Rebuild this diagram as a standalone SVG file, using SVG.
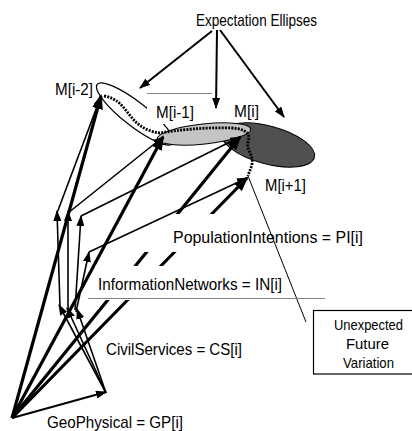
<svg xmlns="http://www.w3.org/2000/svg" width="412" height="431" viewBox="0 0 412 431">
<style>
text{font-family:"Liberation Sans",Arial,sans-serif;fill:#000}
.lbl{font-size:17px}
.box{font-size:14.5px}
.tk{stroke:#000;stroke-width:3.2;fill:none;marker-end:url(#ahT)}
.tn{stroke:#000;stroke-width:1.6;fill:none;marker-end:url(#ahS)}
.ex{stroke:#000;stroke-width:2;fill:none;marker-end:url(#ahS)}
.dot{stroke:#000;stroke-width:2.8;fill:none;stroke-dasharray:2 1.2}
.rule{stroke:#808080;stroke-width:1}
</style>
<defs>
<marker id="ahT" markerUnits="userSpaceOnUse" viewBox="0 0 15 11" markerWidth="15" markerHeight="11" refX="13" refY="5.5" orient="auto"><path d="M0,0 L15,5.5 L0,11 z" fill="#000"/></marker>
<marker id="ahS" markerUnits="userSpaceOnUse" viewBox="0 0 11 8" markerWidth="11" markerHeight="8" refX="10" refY="4" orient="auto"><path d="M0,0 L11,4 L0,8 z" fill="#000"/></marker>
<mask id="lblmask" maskUnits="userSpaceOnUse" x="0" y="0" width="412" height="431">
<rect x="0" y="0" width="412" height="431" fill="#fff"/>
<rect x="142" y="214" width="230" height="38" fill="#000"/>
<rect x="95" y="266" width="235" height="34" fill="#000"/>
</mask>
</defs>
<rect width="412" height="431" fill="#fff"/>

<g id="node-M-i-2">
<ellipse cx="135" cy="114" rx="48" ry="12" transform="rotate(38 135 114)" fill="#fff" stroke="#000" stroke-width="1.2"/>
<text class="lbl" x="55" y="95" textLength="38" lengthAdjust="spacingAndGlyphs">M[i-2]</text>
</g>
<g id="node-M-i">
<ellipse cx="268" cy="145" rx="48" ry="19" transform="rotate(15 268 145)" fill="#505050" stroke="#000" stroke-width="1"/>
<rect x="231" y="102" width="29" height="18" fill="#fff"/>
<text class="lbl" x="234" y="117" textLength="25" lengthAdjust="spacingAndGlyphs">M[i]</text>
</g>
<g id="node-M-i-1">
<rect x="147" y="94" width="66" height="30" fill="#fff"/>
<line class="rule" x1="147" y1="93.5" x2="212" y2="93.5"/>
<ellipse cx="204" cy="134" rx="47" ry="10" transform="rotate(-6 204 134)" fill="#c4c4c4" stroke="#000" stroke-width="1"/>
<text class="lbl" x="156" y="118" textLength="38" lengthAdjust="spacingAndGlyphs">M[i-1]</text>
</g>
<g id="node-M-i+1">
<text class="lbl" x="265" y="191" textLength="41" lengthAdjust="spacingAndGlyphs">M[i+1]</text>
</g>

<g id="connectors">
<g mask="url(#lblmask)">
<line class="tk" x1="12" y1="418" x2="101" y2="96"/>
<line class="tk" x1="12" y1="418" x2="163" y2="137"/>
<line class="tk" x1="12" y1="418" x2="240" y2="137"/>
<line class="tk" x1="12" y1="418" x2="247" y2="178"/>
</g>
<line class="tn" x1="12" y1="418" x2="106" y2="392" style="stroke-width:2"/>
<line class="tn" x1="106" y1="393" x2="59" y2="305"/>
<line class="tn" x1="106" y1="393" x2="67" y2="308"/>
<line class="tn" x1="106" y1="393" x2="77" y2="309"/>
<line class="tn" x1="60" y1="307" x2="57" y2="211"/>
<line class="tn" x1="68" y1="309" x2="68" y2="211"/>
<line class="tn" x1="75" y1="310" x2="81" y2="216"/>
<line class="tn" x1="76" y1="312" x2="89" y2="252"/>
<line class="tn" x1="57" y1="213" x2="101" y2="96"/>
<line class="tn" x1="68" y1="213" x2="163" y2="137"/>
<line class="tn" x1="81" y1="216" x2="240" y2="137"/>
<line class="tn" x1="89" y1="252" x2="247" y2="178"/>
<path class="dot" d="M104,96 C116,98 122,105 128,113 C135,122 143,131 160,133 C178,130 205,127 232,128 C246,129 251,134 248,142 C246,150 254,156 252,164 C251,169 249,172 248,176"/>
<line x1="248" y1="176" x2="306" y2="322" stroke="#000" stroke-width="1"/>
<line class="ex" x1="212" y1="31" x2="140" y2="88"/>
<line class="ex" x1="217" y1="30" x2="216" y2="108"/>
<line class="ex" x1="220" y1="30" x2="284" y2="117"/>
</g>

<g id="label-expectation">
<text class="lbl" x="196" y="26" textLength="121" lengthAdjust="spacingAndGlyphs">Expectation Ellipses</text>
</g>
<g id="node-PI">
<text class="lbl" x="173" y="243" textLength="190" lengthAdjust="spacingAndGlyphs">PopulationIntentions = PI[i]</text>
</g>
<g id="node-IN">
<text class="lbl" x="98" y="290" textLength="184" lengthAdjust="spacingAndGlyphs">InformationNetworks = IN[i]</text>
<line class="rule" x1="88" y1="298.5" x2="325" y2="298.5"/>
</g>
<g id="node-CS">
<text class="lbl" x="106" y="355" textLength="136" lengthAdjust="spacingAndGlyphs">CivilServices = CS[i]</text>
</g>
<g id="node-GP">
<text class="lbl" x="47" y="428" textLength="136" lengthAdjust="spacingAndGlyphs">GeoPhysical = GP[i]</text>
</g>
<g id="node-unexpected">
<rect x="313.5" y="310.5" width="110" height="63.5" fill="#fff" stroke="#000" stroke-width="1.2"/>
<text class="box" x="334" y="330" textLength="69" lengthAdjust="spacingAndGlyphs">Unexpected</text>
<text class="box" x="346" y="349" textLength="43" lengthAdjust="spacingAndGlyphs">Future</text>
<text class="box" x="343" y="368" textLength="51" lengthAdjust="spacingAndGlyphs">Variation</text>
</g>
</svg>
